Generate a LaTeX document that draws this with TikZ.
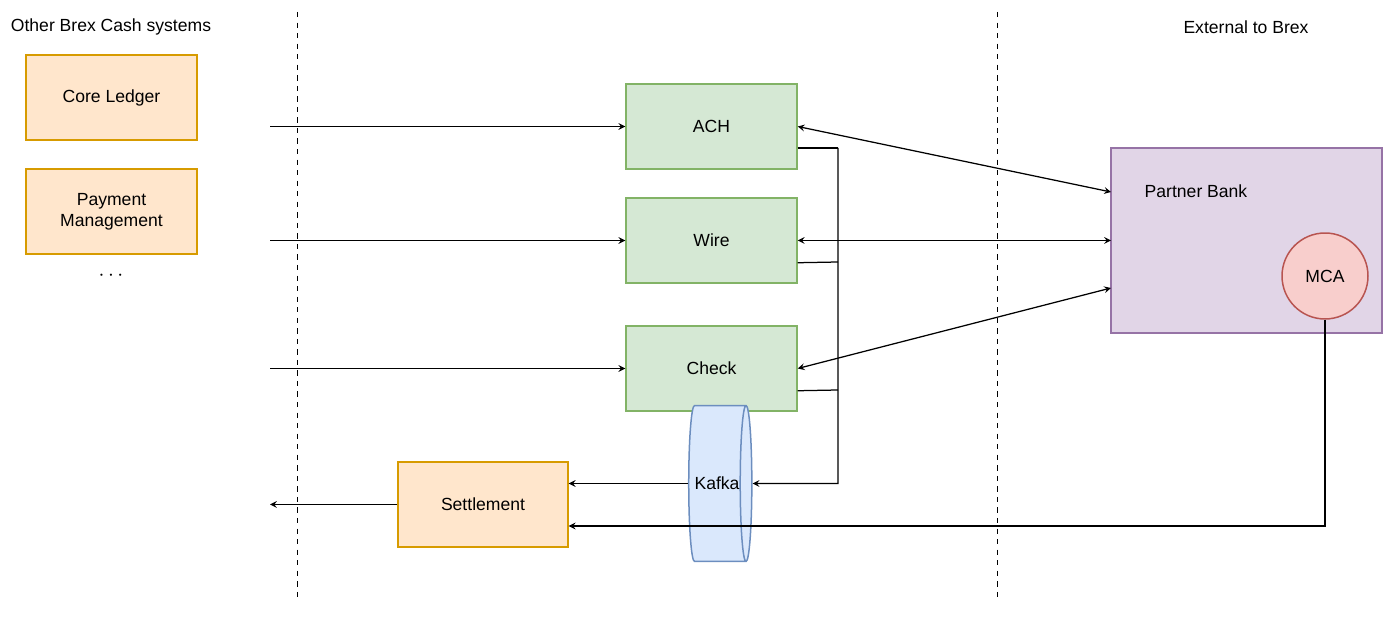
\documentclass[tikz,border=0pt]{standalone}
\usepackage{fontspec}
\setmainfont{Liberation Sans}
\usetikzlibrary{positioning}
\usetikzlibrary{arrows}
\usetikzlibrary{shapes.geometric}
\definecolor{orangefill}{HTML}{FFE6CC}\definecolor{orangeline}{HTML}{D79B00}
\definecolor{greenfill}{HTML}{D5E8D4}\definecolor{greenline}{HTML}{82B366}
\definecolor{bluefill}{HTML}{DAE8FC}\definecolor{blueline}{HTML}{6C8EBF}
\definecolor{purplefill}{HTML}{E1D5E7}\definecolor{purpleline}{HTML}{9673A6}
\definecolor{redfill}{HTML}{F8CECC}\definecolor{redline}{HTML}{B85450}
\begin{document}
\begin{tikzpicture}[x=0.02cm, y=-0.02cm, font=\fontsize{10}{12}\selectfont,
	box/.style={draw, line width={0.3mm}, minimum width={3.42cm}, minimum height={1.7cm}, align=center, inner sep=0pt},
	other/.style={box, fill=orangefill, draw=orangeline},
	rail/.style={box, fill=greenfill, draw=greenline},
	link/.style={->, >=stealth, line width={0.25mm}},
	both/.style={<->, >=stealth, line width={0.25mm}}]
			\useasboundingbox (0,0) rectangle (1400,617);
			\node (title-other) at ( 111,  27) {Other Brex Cash systems};
			\node (title-external) at (1246,  27) {External to Brex};
			\node[other] (core-ledger) at ( 111.5,  97.5) {Core Ledger};
			\node[other] (payment-mgmt) at ( 111.5, 211.5) {Payment\\Management};
			\node (more) at ( 111, 276) {\textbf{\large $\cdots$}};
			\node[rail] (rail-ach) at ( 711.5, 126.5) {ACH};
			\node[rail] (rail-wire) at ( 711.5, 240.5) {Wire};
			\node[rail] (rail-check) at ( 711.5, 368.5) {Check};
			\node[cylinder, draw=blueline, fill=bluefill, line width={0.3mm}, minimum width={3.12cm}, minimum height={1.26cm}, aspect=0.9, inner sep=0pt] (kafka) at ( 717, 483.5) {Kafka};
			\node[other, minimum width={3.4cm}] (settlement) at ( 483, 504.5) {Settlement};
			\node[box, fill=purplefill, draw=purpleline, minimum width={5.42cm}, minimum height={3.7cm}] (partner-bank) at (1246.5, 240.5) {};
			\node (partner-label) at (1196, 191) {Partner Bank};
			\node[circle, draw=redline, fill=redfill, line width={0.3mm}, minimum size={1.72cm}, inner sep=0pt] (mca) at (1325, 276) {MCA};
			\coordinate (in-ach) at ( 270, 126.5);
			\coordinate (in-wire) at ( 270, 240.5);
			\coordinate (in-check) at ( 270, 368.5);
			\coordinate (out-settle) at ( 270, 504.5);
			\coordinate (bank-ach) at (1111, 192);
			\coordinate (bank-wire) at (1111, 240.5);
			\coordinate (bank-check) at (1111, 288);
			\coordinate (bus-top) at ( 838, 148);
			\coordinate (bus-bottom) at ( 838, 483.5);
			\draw[dashed] (297, 12) -- (297, 598);
			\draw[dashed] (997, 12) -- (997, 598);
			\draw[link] (in-ach) to (rail-ach);
			\draw[link] (in-wire) to (rail-wire);
			\draw[link] (in-check) to (rail-check);
			\draw[both] (rail-ach.east) to (bank-ach);
			\draw[both] (rail-wire.east) to (bank-wire);
			\draw[both] (rail-check.east) to (bank-check);
			\draw[line width={0.25mm}] (rail-ach.east |- bus-top) -- (bus-top);
			\draw[line width={0.25mm}] (rail-wire.south east) ++(0,-21) -- (838, 262);
			\draw[line width={0.25mm}] (rail-check.south east) ++(0,-21) -- (838, 390);
			\draw[link] (bus-top) -- (bus-bottom) -- (kafka.east);
			\draw[link] (kafka.west) -- (settlement.east |- kafka.west);
			\draw[link] (settlement) to (out-settle);
			\draw[link] (mca.south) |- (settlement.east |- 0, 526);
		\end{tikzpicture}
\end{document}
